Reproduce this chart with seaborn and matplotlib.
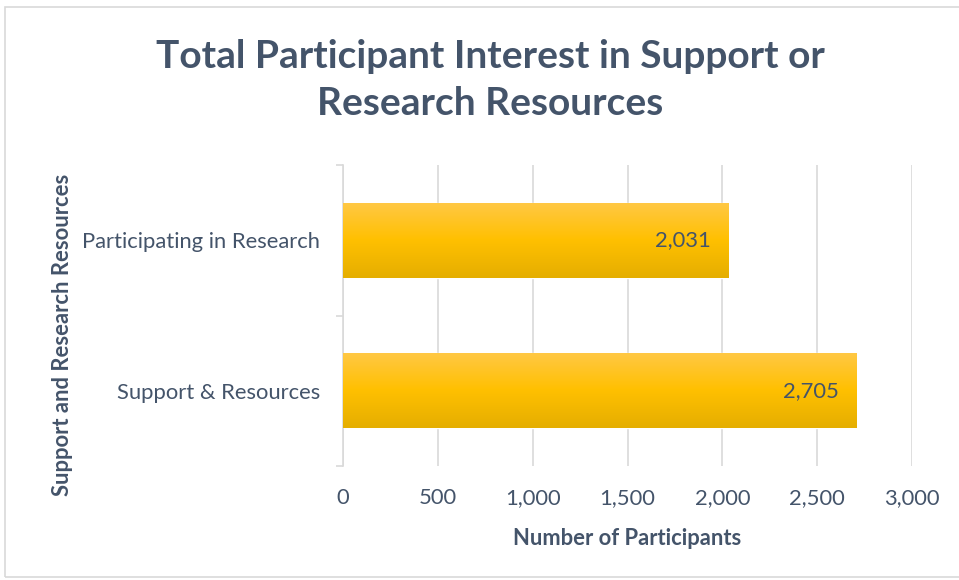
import numpy as np
import pandas as pd
import matplotlib
matplotlib.use("Agg")
import matplotlib.pyplot as plt
import seaborn as sns
from matplotlib.colors import LinearSegmentedColormap
from matplotlib.patches import Rectangle

categories = ["Participating in Research", "Support & Resources"]
participants = [2031, 2705]
x_ticks = [0, 500, 1000, 1500, 2000, 2500, 3000]

TEXT = "#44546A"
GRID = "#D9D9D9"
FS = 15.8

sns.set_theme(style="white")
plt.rcParams["font.family"] = ["Lato", "DejaVu Sans"]

df = pd.DataFrame({"Resource": categories, "Participants": participants})

fig = plt.figure(figsize=(9.59, 5.8), dpi=100)
ax = fig.add_axes([343 / 959, 1 - 466 / 580, (912 - 343) / 959, (466 - 165) / 580])

sns.barplot(data=df, y="Resource", x="Participants", order=categories,
            orient="h", width=0.5, color="#FFC000", ax=ax, zorder=2)

ax.set_xlim(0, 3000)
ax.set_ylim(1.5, -0.5)
ax.set_xticks(x_ticks)
ax.set_xticklabels([f"{v:,}" for v in x_ticks], color=TEXT, fontsize=FS)
ax.tick_params(axis="x", length=0, pad=16)
ax.grid(axis="x", color=GRID, linewidth=1.2, zorder=0)
ax.set_axisbelow(True)

# category boundaries get small outward tick marks on the value axis
ax.set_yticks([-0.5, 0.5, 1.5], minor=True)
ax.tick_params(axis="y", which="minor", length=5, color=GRID, width=1.2, left=True)
ax.tick_params(axis="y", which="major", length=0, pad=16.5, labelsize=FS, labelcolor=TEXT)

for side in ["top", "right", "bottom"]:
    ax.spines[side].set_visible(False)
ax.spines["left"].set_color(GRID)
ax.spines["left"].set_linewidth(1.2)

# vertical gold gradient over each bar
grad = LinearSegmentedColormap.from_list(
    "gold", ["#FFC846", "#FFC000", "#E5AE00"])
gimg = np.linspace(0, 1, 256).reshape(-1, 1)
for patch, val in zip(ax.patches, participants):
    x0, y0 = patch.get_x(), patch.get_y()
    w, h = patch.get_width(), patch.get_height()
    im = ax.imshow(gimg, cmap=grad, aspect="auto", zorder=3,
                   extent=[x0, x0 + w, y0 + h, y0], origin="upper")
    im.set_clip_path(patch)
    ax.text(x0 + w - 90, y0 + h / 2, f"{val:,}", ha="right", va="center",
            color=TEXT, fontsize=FS, zorder=4)
ax.set_ylim(1.5, -0.5)
ax.set_xlim(0, 3000)

ax.set_xlabel("Number of Participants", color=TEXT, fontsize=FS,
              fontweight="bold", labelpad=14)
ax.set_ylabel("Support and Research Resources", color=TEXT, fontsize=FS,
              fontweight="bold", labelpad=0)
ax.yaxis.set_label_coords(-270 / 569, 0.435)

fig.text(490 / 959, 1 - 80 / 580,
         "Total Participant Interest in Support or\nResearch Resources",
         ha="center", va="center", color=TEXT, fontsize=28,
         fontweight="bold", linespacing=1.42)

# light frame around the chart area
fig.patches.append(Rectangle((5 / 959, 0.005), 1.2, 1 - 7 / 580 - 0.005,
                             transform=fig.transFigure, fill=False,
                             edgecolor="#D9D9D9", linewidth=1.2))

fig.savefig("out.png", dpi=100, facecolor="white")
